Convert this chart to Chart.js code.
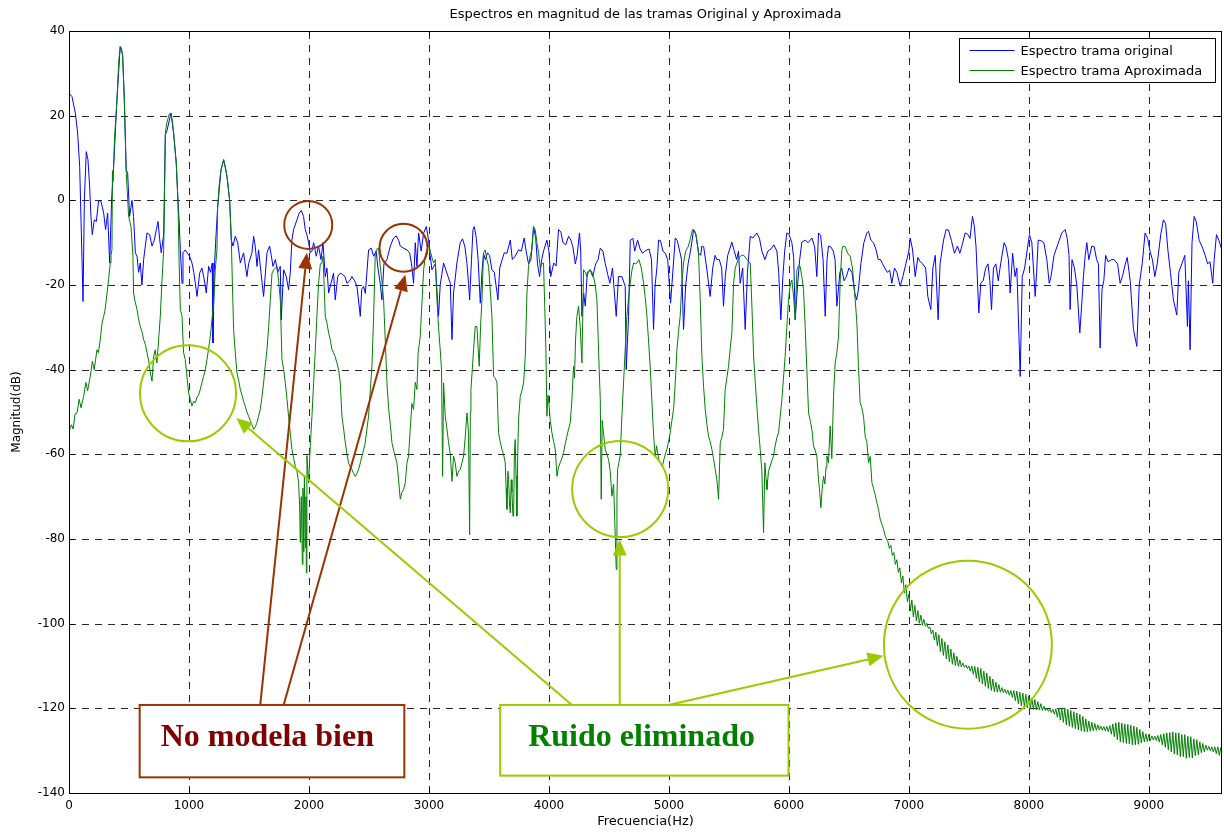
<!DOCTYPE html>
<html>
<head>
<meta charset="utf-8">
<script src="https://cdn.jsdelivr.net/npm/chart.js@4.4.1/dist/chart.umd.min.js"></script>
<style>
html,body{margin:0;padding:0;background:#fff;}
#wrap{width:1224px;height:834px;position:relative;}
</style>
</head>
<body>
<div id="wrap"><canvas id="c" width="1224" height="834"></canvas></div>
<script>
// ---------- DATA ----------
const chartTitle = 'Espectros en magnitud de las tramas Original y Aproximada';
const seriesNames = ['Espectro trama original', 'Espectro trama Aproximada'];
const xTickValues = [0,1000,2000,3000,4000,5000,6000,7000,8000,9000];
const yTickValues = [-140,-120,-100,-80,-60,-40,-20,0,20,40];

// [frequency Hz, magnitude dB]
const originalSpectrum = [
[0,25.3],[25,24.5],[53,20.6],[72,15.9],[89,8],[103,-7.7],[117,-23.9],[128,0],[144,11.5],[158,9.6],
[172,3.3],[183,-3.8],[194,-8.1],[211,-4.6],[228,-5],[247,0],[267,-0.3],[289,-3],[305,-6.9],[322,-3],
[339,-14.8],[355,0],[372,8],[400,24],[427,36.3],[447,34.3],[461,24],[477,7.2],[489,6.4],[505,-3.8],
[525,0],[538,-3.8],[553,-12.4],[567,-13.2],[580,-17],[594,-14.8],[608,-20],[622,-14],[650,-7.7],[672,-8.1],
[692,-10.8],[711,-9.4],[728,-6.9],[742,-5],[755,-9],[769,-12.4],[789,-8],[803,15.5],[817,16.5],[850,20.6],
[872,15.9],[894,8.8],[908,0],[918,-5],[928,-11.7],[942,-19.6],[950,-12.4],[969,-11.7],[987,-12.5],[1005,-13.2],
[1025,-14.8],[1040,-17],[1053,-19.6],[1067,-22.7],[1089,-17.2],[1108,-16],[1128,-18.8],[1144,-21.9],[1164,-15.6],[1180,-17],
[1194,-14.8],[1200,-33.7],[1210,-17],[1222,-10],[1239,-1.6],[1267,7.2],[1289,9.6],[1317,5.6],[1339,0],[1353,-9.4],
[1367,-10.8],[1386,-8.5],[1406,-10],[1428,-14.8],[1455,-12.4],[1483,-18],[1497,-15],[1525,-12.4],[1539,-8.5],[1553,-11],
[1567,-15.6],[1580,-11.7],[1600,-17],[1622,-22.7],[1650,-12.4],[1672,-10.8],[1686,-13],[1700,-15.6],[1720,-14],[1740,-17],
[1761,-15.6],[1769,-28.2],[1789,-16.4],[1811,-18],[1830,-21.1],[1844,-17.2],[1858,-9.4],[1872,-6.9],[1900,-4.6],[1919,-3],
[1936,-2.4],[1955,-3.8],[1969,-6.9],[1983,-8.1],[1997,-10],[2011,-12.4],[2025,-12],[2039,-10],[2061,-13.2],[2080,-10.8],
[2100,-14],[2117,-10],[2136,-18],[2150,-16],[2164,-21.9],[2180,-20],[2205,-17.2],[2219,-23.5],[2240,-18],[2261,-17.2],
[2280,-17.5],[2300,-18],[2317,-19.6],[2340,-19],[2358,-18],[2380,-19],[2400,-20.3],[2428,-27.4],[2440,-21],[2455,-20.3],
[2470,-22],[2497,-11.7],[2519,-11.3],[2539,-13.2],[2560,-12],[2575,-16],[2594,-19.6],[2608,-23.5],[2625,-15],[2650,-14],
[2678,-10.8],[2705,-8.9],[2728,-8.4],[2747,-9.4],[2761,-10.8],[2789,-11.3],[2817,-11.7],[2839,-12.4],[2855,-15],[2872,-19.6],
[2886,-10],[2900,-15.6],[2914,-7.7],[2935,-12],[2956,-7.7],[2978,-6.2],[2997,-9.4],[3010,-13],[3025,-16.4],[3053,-15],
[3080,-27.4],[3094,-20],[3122,-14.8],[3150,-17.2],[3178,-19.6],[3192,-32.9],[3205,-21.9],[3233,-14.8],[3261,-10],[3280,-9.1],
[3300,-11],[3317,-15],[3330,-19.6],[3339,-23.5],[3355,-14],[3367,-6.9],[3378,-6.2],[3395,-9],[3410,-14],[3428,-24.3],
[3442,-17],[3455,-12.6],[3470,-14],[3489,-12.4],[3505,-13],[3525,-16.4],[3545,-17],[3575,-23.5],[3590,-16],[3610,-14],
[3628,-12.4],[3650,-12.5],[3678,-9.4],[3695,-14],[3719,-13.2],[3747,-11.7],[3770,-12],[3794,-8.9],[3810,-12],[3830,-15],
[3850,-14],[3872,-6.2],[3890,-9],[3905,-15],[3922,-18],[3940,-14],[3955,-12],[3983,-9.4],[4000,-12],[4015,-18],
[4040,-14.8],[4060,-15.5],[4080,-6.9],[4100,-7.5],[4117,-10],[4140,-10.5],[4164,-8.5],[4183,-9.4],[4200,-11],[4220,-15],
[4235,-13],[4255,-7.7],[4265,-12],[4275,-27.4],[4290,-22],[4303,-25],[4320,-17],[4344,-16.4],[4365,-18],[4390,-15],
[4410,-14],[4428,-11.3],[4450,-12],[4470,-15],[4490,-17.5],[4508,-19.6],[4530,-16],[4561,-27.4],[4580,-18],[4608,-18],
[4636,-20.3],[4644,-40],[4664,-27.4],[4678,-9.4],[4700,-9],[4715,-12],[4739,-9.4],[4760,-11.5],[4780,-12.5],[4800,-12],
[4817,-11.7],[4835,-11.5],[4855,-14],[4872,-30.5],[4885,-20],[4900,-16],[4914,-9.4],[4930,-9.5],[4950,-12],[4970,-12.5],
[4990,-14],[5014,-24.3],[5035,-16],[5053,-8.9],[5070,-9.5],[5090,-12],[5105,-14],[5122,-30.5],[5140,-20],[5160,-15],
[5180,-12],[5206,-7],[5225,-8],[5247,-12.4],[5265,-13],[5275,-10.8],[5290,-11],[5315,-16],[5344,-22.7],[5365,-16],
[5385,-13],[5400,-14],[5420,-14],[5440,-16],[5455,-25],[5470,-18],[5490,-13],[5525,-9.9],[5545,-12],[5565,-14],
[5580,-12],[5594,-19.6],[5615,-16],[5636,-30.5],[5655,-17],[5678,-8.5],[5700,-8.9],[5733,-7.7],[5755,-9],[5775,-12],
[5800,-14],[5825,-12],[5850,-11.5],[5875,-10.5],[5900,-12],[5915,-17],[5933,-28.2],[5950,-18],[5965,-12],[5983,-7.7],
[6000,-8],[6025,-10],[6040,-13.5],[6053,-28.2],[6070,-21],[6090,-14],[6108,-9.9],[6136,-9.4],[6160,-10],[6192,-8.9],
[6215,-11],[6233,-18],[6247,-7.7],[6265,-8.3],[6285,-14],[6303,-27.4],[6318,-14],[6330,-10.8],[6350,-11],[6370,-12],
[6385,-14],[6400,-25],[6410,-22],[6425,-17],[6440,-16],[6460,-19],[6480,-18],[6500,-16],[6525,-17],[6550,-22],
[6565,-23.5],[6580,-21],[6600,-15],[6625,-10],[6650,-7.7],[6664,-7.3],[6683,-9.4],[6705,-10],[6725,-11.5],[6745,-14],
[6765,-14],[6780,-15],[6800,-16],[6820,-17],[6840,-16.5],[6858,-19.6],[6880,-16],[6900,-17],[6928,-20.3],[6950,-18],
[6975,-15],[7000,-12],[7011,-8.9],[7030,-11.5],[7053,-18],[7075,-13.5],[7095,-14.5],[7115,-15],[7140,-16],[7158,-22.7],
[7183,-25.8],[7200,-16],[7220,-13],[7244,-28.2],[7260,-15],[7289,-9.4],[7311,-6.9],[7330,-7],[7355,-9.5],[7380,-12.5],
[7405,-10.8],[7425,-12.5],[7445,-10.5],[7469,-7.7],[7490,-8],[7510,-9],[7530,-3.8],[7545,-6],[7560,-11],[7583,-26.6],
[7600,-19.5],[7620,-19],[7640,-16],[7660,-15],[7675,-19],[7689,-25.8],[7705,-16],[7725,-15],[7745,-19],[7765,-15],
[7794,-10],[7810,-11],[7830,-14],[7844,-21.9],[7865,-12.5],[7885,-18],[7900,-16],[7928,-41.6],[7945,-18],[7965,-16],
[7985,-12],[8005,-8.1],[8025,-10],[8053,-22.7],[8065,-17],[8078,-9.4],[8100,-9.5],[8125,-10],[8150,-14],[8170,-19.6],
[8185,-18],[8210,-13],[8240,-10.5],[8275,-7.7],[8303,-6.9],[8320,-9],[8335,-13],[8344,-25.8],[8360,-14],[8380,-16],
[8400,-20],[8425,-31.3],[8440,-25],[8455,-18],[8470,-13],[8483,-10],[8500,-14],[8525,-10.8],[8545,-11],[8565,-14],
[8580,-15],[8594,-34.9],[8610,-21],[8625,-19],[8640,-13],[8660,-14.5],[8690,-14],[8710,-14],[8740,-15],[8761,-19.6],
[8780,-18],[8800,-15.5],[8820,-13.5],[8845,-19],[8872,-30.5],[8900,-34.5],[8920,-20],[8945,-15],[8969,-7.7],[8990,-9],
[9010,-12],[9030,-14],[9050,-18],[9070,-15],[9100,-8],[9122,-4.6],[9140,-5.5],[9160,-12],[9180,-17],[9205,-23.5],
[9233,-27.1],[9250,-17],[9275,-15],[9300,-13],[9322,-29.8],[9330,-19],[9344,-35.3],[9360,-10],[9378,-3.8],[9395,-5],
[9420,-9.5],[9445,-11],[9470,-13],[9490,-15],[9510,-14.5],[9533,-19.6],[9545,-14],[9564,-8.1],[9585,-9.5],[9608,-11.7]
];

const approximatedSpectrum = [
[0,-54.5],[20,-53],[35,-54],[50,-50.5],[67,-50.2],[85,-47],[100,-49],[122,-46.3],[140,-43],[155,-45],
[177,-41.6],[195,-38],[210,-40],[233,-35.3],[245,-36],[261,-32.9],[275,-29],[289,-27.4],[300,-26],[317,-21.9],
[330,-18.7],[344,-14.8],[350,-13],[358,-11.7],[362,7],[367,4.5],[380,15],[400,23.7],[415,33],[427,36.3],
[437,36],[447,34.3],[461,23.7],[477,6.4],[497,-3.8],[517,-6.2],[533,-13.2],[538,-21.9],[552,-24],[567,-25.8],
[580,-28],[594,-29.8],[608,-31],[622,-32.9],[636,-34],[650,-36],[665,-38],[678,-40.8],[692,-42.7],[705,-37],
[719,-35.3],[733,-38.4],[747,-33],[761,-27.4],[775,-19],[789,-11.7],[796,0],[803,16],[817,18.5],[836,20.4],
[850,20.6],[862,18.5],[872,15.9],[894,8.8],[908,0],[918,-15],[928,-25.8],[942,-27.4],[955,-36],[969,-37.6],
[983,-41.6],[997,-45.5],[1011,-47],[1025,-48.6],[1039,-47.5],[1053,-47.8],[1067,-46.5],[1080,-46],[1094,-44.7],[1108,-43],
[1122,-41.6],[1136,-40],[1150,-37.6],[1164,-35],[1178,-32.1],[1192,-28],[1206,-24.3],[1219,-16.5],[1233,-11.7],[1239,-1.6],
[1253,4],[1267,7.2],[1289,9.6],[1303,8],[1317,5.6],[1339,0],[1353,-9.4],[1362,-20],[1372,-30.5],[1386,-36],
[1400,-40.8],[1414,-42.5],[1428,-44.7],[1442,-46],[1455,-47.5],[1469,-48.6],[1483,-50],[1497,-51],[1511,-52],[1525,-53],
[1539,-54.1],[1553,-53.5],[1567,-52.5],[1580,-51],[1594,-49.4],[1608,-46.5],[1622,-43.1],[1636,-39],[1650,-35.3],[1664,-30],
[1678,-23.5],[1692,-17.2],[1706,-16.4],[1720,-16],[1733,-15.6],[1747,-19],[1761,-23.5],[1775,-37.6],[1789,-40],[1803,-43.1],
[1817,-47],[1830,-51],[1844,-55],[1858,-58.8],[1872,-61],[1886,-62.8],[1900,-64],[1914,-66.7],[1922,-72],[1928,-80.8],
[1936,-70],[1945,-86],[1950,-68],[1957,-83],[1962,-65],[1970,-82],[1975,-70],[1978,-88],[1983,-60.3],[1997,-66.8],
[2011,-58],[2025,-51],[2039,-43],[2053,-35.3],[2067,-27],[2080,-19.6],[2095,-15],[2108,-14.8],[2117,-13.2],[2125,-19],
[2136,-27.4],[2150,-29],[2164,-31.3],[2178,-33],[2192,-35.3],[2205,-36],[2219,-37],[2233,-38.4],[2247,-40],[2261,-43.1],
[2275,-51],[2289,-54],[2303,-57.3],[2317,-60],[2330,-62],[2344,-63],[2358,-63.6],[2372,-64.5],[2386,-65.2],[2400,-64.5],
[2414,-63.6],[2428,-62],[2442,-60.4],[2455,-59],[2469,-57.3],[2483,-54],[2497,-51],[2511,-45],[2525,-39.2],[2539,-27.4],
[2553,-12.4],[2566,-11.5],[2580,-11.3],[2594,-15.6],[2608,-19],[2622,-23.5],[2636,-33],[2650,-43.1],[2664,-49],[2678,-53],
[2692,-57.3],[2705,-59],[2719,-60.5],[2733,-62],[2747,-66],[2761,-70.6],[2775,-69],[2789,-68.3],[2803,-66.7],[2817,-62],
[2830,-60.4],[2844,-54],[2858,-48],[2872,-49.4],[2886,-43],[2900,-44.7],[2910,-36],[2928,-32.1],[2942,-24],[2956,-16.4],
[2970,-13],[2983,-11.7],[3000,-10.5],[3011,-12],[3025,-13.5],[3039,-14.8],[3053,-14],[3067,-23.5],[3080,-30],[3094,-35.3],
[3105,-40],[3114,-65.2],[3122,-43.1],[3136,-51],[3150,-54],[3164,-57.3],[3178,-60],[3192,-66.4],[3205,-60.4],[3219,-62],
[3233,-65.2],[3247,-64],[3261,-63.6],[3275,-62],[3289,-60.4],[3303,-55.7],[3317,-50.2],[3330,-55],[3339,-79],[3345,-50],
[3350,-44.7],[3361,-40],[3372,-35.3],[3386,-29.8],[3400,-29.8],[3410,-35],[3419,-39.2],[3430,-30],[3442,-23.5],[3455,-12.4],
[3469,-11.7],[3483,-14],[3497,-15.6],[3511,-21.1],[3525,-27.4],[3539,-41.6],[3553,-42],[3567,-43.1],[3580,-54.9],[3594,-57],
[3608,-58.8],[3622,-60],[3636,-62],[3643,-68],[3650,-73],[3658,-64],[3664,-66],[3672,-72],[3678,-73.8],[3686,-66],
[3692,-69],[3700,-74.6],[3706,-74.6],[3712,-60],[3719,-56.5],[3726,-65],[3733,-74.6],[3740,-60],[3747,-51.8],[3761,-46.3],
[3775,-45],[3789,-43.1],[3803,-36.8],[3817,-21.9],[3830,-15.6],[3844,-13],[3858,-11.7],[3872,-6.2],[3886,-7],[3900,-10],
[3914,-12.4],[3928,-16],[3942,-15],[3955,-14.8],[3965,-25],[3975,-35.3],[3983,-51],[3992,-46],[4000,-48],[4011,-52],
[4025,-54.9],[4039,-57],[4053,-58.8],[4067,-65.2],[4080,-63],[4094,-62],[4108,-61],[4122,-59.6],[4136,-57.5],[4150,-55.7],
[4164,-54],[4178,-52.5],[4192,-47],[4205,-39.2],[4213,-42],[4222,-33],[4233,-27.4],[4247,-25],[4261,-30],[4275,-38.4],
[4289,-16.4],[4303,-17],[4317,-18],[4330,-17],[4344,-16.4],[4358,-17],[4372,-18],[4386,-20],[4400,-23.5],[4410,-32],
[4419,-40],[4428,-47],[4436,-70.6],[4444,-52],[4455,-55],[4469,-58.8],[4483,-60],[4497,-61.2],[4511,-64],[4525,-69.9],
[4539,-67],[4553,-79.3],[4561,-87.2],[4567,-70],[4572,-63.6],[4583,-62],[4594,-60.4],[4608,-51],[4622,-43.1],[4636,-35],
[4650,-27.4],[4664,-23],[4678,-19.6],[4692,-16.5],[4706,-14.8],[4720,-15],[4733,-14.8],[4750,-14],[4770,-16],[4789,-19.6],
[4803,-23],[4817,-27.4],[4830,-33],[4844,-39.2],[4856,-46],[4867,-52.5],[4876,-57],[4886,-60.4],[4897,-58],[4914,-61],
[4928,-62],[4945,-63],[4960,-61],[4983,-58.8],[4997,-57],[5011,-54.9],[5025,-52],[5039,-49.4],[5053,-43.1],[5067,-35.3],
[5080,-31],[5094,-27.4],[5108,-19.6],[5122,-14.8],[5140,-12],[5160,-11],[5180,-9],[5195,-7],[5206,-6.9],[5220,-7.5],
[5233,-9.5],[5247,-12.4],[5261,-23.5],[5275,-36.8],[5289,-44],[5303,-49.4],[5317,-53],[5330,-55.7],[5344,-57],[5358,-58.8],
[5372,-61],[5386,-63.6],[5400,-66],[5414,-70.6],[5428,-57.3],[5441,-56],[5455,-54.1],[5469,-44.7],[5483,-42],[5497,-39.2],
[5511,-35],[5525,-31.3],[5539,-19.6],[5553,-16],[5567,-14.8],[5585,-13.5],[5605,-13],[5625,-13],[5650,-14],[5678,-14.8],
[5692,-25],[5706,-36.8],[5720,-43],[5733,-48.6],[5747,-54],[5761,-58.8],[5775,-64],[5789,-78.5],[5800,-62],[5810,-66],
[5817,-68.3],[5830,-64],[5844,-62.8],[5858,-61.5],[5872,-60.4],[5886,-58],[5900,-56],[5914,-54.9],[5928,-51],[5942,-47],
[5955,-42],[5969,-36.8],[5983,-30],[5997,-23.5],[6011,-20],[6025,-18.8],[6040,-23],[6053,-28.2],[6067,-16.4],[6080,-15.5],
[6094,-15.6],[6108,-18],[6122,-21.1],[6136,-30],[6150,-40],[6164,-50.2],[6178,-52],[6192,-54.1],[6205,-58],[6219,-59],
[6233,-60.4],[6247,-65.9],[6257,-69],[6267,-72.6],[6278,-68],[6289,-65.2],[6300,-67],[6310,-63],[6317,-60.4],[6330,-62],
[6344,-53.3],[6358,-61],[6372,-46.3],[6386,-38.4],[6400,-36],[6414,-32.1],[6428,-18.8],[6442,-11.7],[6450,-10.8],[6470,-11],
[6490,-12.5],[6511,-13.2],[6530,-16],[6553,-23.5],[6567,-29],[6580,-39.2],[6594,-47.8],[6608,-49],[6622,-51],[6636,-55.7],
[6650,-57],[6664,-62],[6678,-60.5],[6692,-66.7],[6705,-68],[6719,-69.5],[6733,-71.4],[6747,-73],[6761,-75.3],[6775,-76.5],
[6789,-77.7],[6803,-79.3],
[6825,-80.6],[6837.5,-82.2],[6850,-81.5],[6862.5,-83.9],[6875,-83.2],[6887.5,-86],[6900,-84.9],[6912.5,-87.9],[6925,-86.8],[6937.5,-90.4],
[6950,-88.7],[6962.5,-92.7],[6975,-90.8],[6987.5,-94.8],[7000,-93],[7012.5,-97],[7025,-94.4],[7037.5,-98.4],[7050,-95.7],[7062.5,-99.3],
[7075,-96.9],[7087.5,-99.9],[7100,-98],[7112.5,-100.4],[7125,-99],[7137.5,-100.6],[7150,-99.9],[7162.5,-101.1],[7175,-100.8],[7187.5,-102.4],
[7200,-101.5],[7212.5,-103.9],[7225,-102],[7237.5,-105.2],[7250,-102.6],[7262.5,-106.6],[7275,-103.5],[7287.5,-107.5],[7300,-104.3],[7312.5,-108.3],
[7325,-105],[7337.5,-109],[7350,-106],[7362.5,-109.6],[7375,-106.9],[7387.5,-109.9],[7400,-107.7],[7412.5,-110.1],[7425,-108.6],[7437.5,-110.2],
[7450,-109.3],[7462.5,-110.3],[7475,-109.8],[7487.5,-110.6],[7500,-110],[7512.5,-111.2],[7525,-110],[7537.5,-112],[7550,-110.1],[7562.5,-112.9],
[7575,-110.3],[7587.5,-113.7],[7600,-110.6],[7612.5,-114.2],[7625,-111.2],[7637.5,-114.8],[7650,-111.7],[7662.5,-115.3],[7675,-112.4],[7687.5,-115.8],
[7700,-113.1],[7712.5,-116.1],[7725,-113.8],[7737.5,-116.2],[7750,-114.4],[7762.5,-116.2],[7775,-115.1],[7787.5,-116.3],[7800,-115.5],[7812.5,-116.5],
[7825,-115.7],[7837.5,-116.9],[7850,-115.8],[7862.5,-117.4],[7875,-115.8],[7887.5,-118.2],[7900,-115.9],[7912.5,-118.9],[7925,-116.2],[7937.5,-119.4],
[7950,-116.4],[7962.5,-119.6],[7975,-116.7],[7987.5,-119.9],[8000,-117],[8012.5,-120.2],[8025,-117.5],[8037.5,-120.3],[8050,-117.9],[8062.5,-120.3],
[8075,-118.4],[8087.5,-120.4],[8100,-118.9],[8112.5,-120.5],[8125,-119.5],[8137.5,-120.5],[8150,-119.9],[8162.5,-120.7],[8175,-120.2],[8187.5,-121],
[8200,-120.2],[8212.5,-121.4],[8225,-120.1],[8237.5,-122.1],[8250,-120],[8262.5,-122.8],[8275,-119.9],[8287.5,-123.3],[8300,-119.9],[8312.5,-123.9],
[8325,-120.2],[8337.5,-124.2],[8350,-120.5],[8362.5,-124.5],[8375,-120.8],[8387.5,-124.8],[8400,-121.1],[8412.5,-125.1],[8425,-121.4],[8437.5,-125.4],
[8450,-121.9],[8462.5,-125.5],[8475,-122.5],[8487.5,-125.5],[8500,-123],[8512.5,-125.4],[8525,-123.3],[8537.5,-125.3],[8550,-123.6],[8562.5,-125.2],
[8575,-123.9],[8587.5,-125.1],[8600,-124.2],[8612.5,-125.2],[8625,-124.3],[8637.5,-125.3],[8650,-124.3],[8662.5,-125.5],[8675,-124.1],[8687.5,-126.1],
[8700,-123.7],[8712.5,-126.7],[8725,-123.4],[8737.5,-127.4],[8750,-123.3],[8762.5,-127.9],[8775,-123.5],[8787.5,-128.1],[8800,-123.7],[8812.5,-128.3],
[8825,-123.8],[8837.5,-128.4],[8850,-124],[8862.5,-128.6],[8875,-124.2],[8887.5,-128.6],[8900,-124.5],[8912.5,-128.5],[8925,-125],[8937.5,-128.2],
[8950,-125.5],[8962.5,-127.9],[8975,-126],[8987.5,-127.8],[9000,-126.2],[9012.5,-127.6],[9025,-126.5],[9037.5,-127.5],[9050,-126.6],[9062.5,-127.6],
[9075,-126.4],[9087.5,-128],[9100,-126.2],[9112.5,-128.6],[9125,-126],[9137.5,-129.2],[9150,-125.8],[9162.5,-129.8],[9175,-125.7],[9187.5,-130.3],
[9200,-125.6],[9212.5,-130.8],[9225,-125.8],[9237.5,-131],[9250,-125.8],[9262.5,-131.4],[9275,-126.2],[9287.5,-131.4],[9300,-126.2],[9312.5,-131.8],
[9325,-126.6],[9337.5,-131.6],[9350,-126.7],[9362.5,-131.7],[9375,-127.2],[9387.5,-131.2],[9400,-127.4],[9412.5,-131],[9425,-127.9],[9437.5,-130.5],
[9450,-128.3],[9462.5,-130.3],[9475,-128.7],[9487.5,-129.9],[9500,-129],[9512.5,-130],[9525,-129.1],[9537.5,-130.3],[9550,-129.1],[9562.5,-130.7],
[9575,-129.1],[9587.5,-131.1],[9600,-129.3],[9610,-131.3]
];

// ---------- Annotation layout (data coordinates; radii/offsets in px) ----------
const notes = {
  brown: '#993300', lime: '#99cc00',
  circles: [
    {x:1994, y:-5.8, r:24, c:'brown'},
    {x:2788, y:-11.2, r:24, c:'brown'},
    {x:992,  y:-45.6, r:48, c:'lime'},
    {x:4594, y:-68.2, r:48, c:'lime'},
    {x:7492, y:-105.0, r:84, c:'lime'}
  ],
  arrows: [
    {x1:1594, y1:-119.2, x2:1983, y2:-12.4, c:'brown'},
    {x1:1789, y1:-119.2, x2:2803, y2:-17.6, c:'brown'},
    {x1:4192, y1:-119.2, x2:1394, y2:-51.4, c:'lime'},
    {x1:4590, y1:-119.2, x2:4590, y2:-80.1, c:'lime'},
    {x1:4997, y1:-119.2, x2:6789, y2:-107.6, c:'lime'}
  ],
  boxes: [
    {x1:589, x2:2795, y1:-119.2, y2:-136.3, c:'brown', text:'No modela bien', tc:'#800000', dx:21},
    {x1:3594, x2:5997, y1:-119.2, y2:-135.9, c:'lime', text:'Ruido eliminado', tc:'#008000', dx:28}
  ]
};

const FONT = "'DejaVu Sans', Arial, sans-serif";

function drawArrow(ctx, x1, y1, x2, y2, color) {
  const ang = Math.atan2(y2 - y1, x2 - x1);
  const len = 16, half = 7;
  const bx = x2 - len * Math.cos(ang), by = y2 - len * Math.sin(ang);
  ctx.strokeStyle = color; ctx.lineWidth = 2;
  ctx.beginPath(); ctx.moveTo(x1, y1); ctx.lineTo(bx, by); ctx.stroke();
  ctx.fillStyle = color;
  ctx.beginPath();
  ctx.moveTo(x2, y2);
  ctx.lineTo(bx + half * Math.sin(ang), by - half * Math.cos(ang));
  ctx.lineTo(bx - half * Math.sin(ang), by + half * Math.cos(ang));
  ctx.closePath(); ctx.fill();
}

const decor = {
  id: 'decor',
  beforeDatasetsDraw(chart) {
    const {ctx, chartArea: a, scales: {x, y}} = chart;
    ctx.save();
    ctx.strokeStyle = '#2a2a2a'; ctx.lineWidth = 1; ctx.setLineDash([7, 6]);
    xTickValues.forEach(v => {
      const px = Math.round(x.getPixelForValue(v)) + 0.5;
      if (px <= a.left + 1) return;
      ctx.beginPath(); ctx.moveTo(px, a.bottom); ctx.lineTo(px, a.top); ctx.stroke();
    });
    yTickValues.forEach(v => {
      const py = Math.round(y.getPixelForValue(v)) + 0.5;
      if (py <= a.top + 1 || py >= a.bottom - 1) return;
      ctx.beginPath(); ctx.moveTo(a.left, py); ctx.lineTo(a.right, py); ctx.stroke();
    });
    ctx.restore();
  },
  afterDatasetsDraw(chart) {
    const {ctx, chartArea: a, scales: {x, y}} = chart;
    ctx.save();
    // frame
    ctx.strokeStyle = '#000'; ctx.lineWidth = 1;
    ctx.strokeRect(Math.round(a.left) + 0.5, Math.round(a.top) + 0.5, Math.round(a.right - a.left) - 1, Math.round(a.bottom - a.top));
    // inner tick marks
    ctx.beginPath();
    xTickValues.forEach(v => {
      const px = Math.round(x.getPixelForValue(v)) + 0.5;
      ctx.moveTo(px, a.bottom); ctx.lineTo(px, a.bottom - 5);
      ctx.moveTo(px, a.top); ctx.lineTo(px, a.top + 5);
    });
    yTickValues.forEach(v => {
      const py = Math.round(y.getPixelForValue(v)) + 0.5;
      ctx.moveTo(a.left, py); ctx.lineTo(a.left + 5, py);
      ctx.moveTo(a.right, py); ctx.lineTo(a.right - 5, py);
    });
    ctx.stroke();

    // annotations
    const col = k => notes[k];
    notes.circles.forEach(c => {
      ctx.strokeStyle = col(c.c); ctx.lineWidth = 2;
      ctx.beginPath(); ctx.arc(x.getPixelForValue(c.x), y.getPixelForValue(c.y), c.r, 0, Math.PI * 2); ctx.stroke();
    });
    notes.arrows.forEach(r => {
      drawArrow(ctx, x.getPixelForValue(r.x1), y.getPixelForValue(r.y1), x.getPixelForValue(r.x2), y.getPixelForValue(r.y2), col(r.c));
    });
    notes.boxes.forEach(b => {
      const l = x.getPixelForValue(b.x1), r = x.getPixelForValue(b.x2);
      const t = y.getPixelForValue(b.y1), bt = y.getPixelForValue(b.y2);
      ctx.fillStyle = '#fff'; ctx.fillRect(l, t, r - l, bt - t);
      ctx.strokeStyle = col(b.c); ctx.lineWidth = 2; ctx.strokeRect(l, t, r - l, bt - t);
      ctx.fillStyle = b.tc; ctx.font = "bold 32px 'Liberation Serif', 'Times New Roman', serif";
      ctx.textAlign = 'left'; ctx.textBaseline = 'alphabetic';
      ctx.fillText(b.text, l + b.dx, t + 41);
    });

    // legend
    const lw = 256, lh = 44;
    const lx = Math.round(a.right - 7 - lw) + 0.5, ly = Math.round(a.top + 7) + 0.5;
    ctx.fillStyle = '#fff'; ctx.fillRect(lx, ly, lw, lh);
    ctx.strokeStyle = '#000'; ctx.lineWidth = 1; ctx.strokeRect(lx, ly, lw, lh);
    const cols = ['#0000ff', '#008000'];
    ctx.font = '13px ' + FONT; ctx.textBaseline = 'middle'; ctx.textAlign = 'left';
    seriesNames.forEach((n, i) => {
      const yy = ly + 12 + i * 20;
      ctx.strokeStyle = cols[i]; ctx.lineWidth = 1;
      ctx.beginPath(); ctx.moveTo(lx + 10, yy); ctx.lineTo(lx + 55, yy); ctx.stroke();
      ctx.fillStyle = '#000'; ctx.fillText(n, lx + 61, yy + 1);
    });

    // title
    ctx.font = '13px ' + FONT; ctx.fillStyle = '#000'; ctx.textAlign = 'center'; ctx.textBaseline = 'middle';
    ctx.fillText(chartTitle, (a.left + a.right) / 2, 15);
    ctx.restore();
  }
};

const toPts = arr => arr.map(p => ({x: p[0], y: p[1]}));

new Chart(document.getElementById('c'), {
  type: 'scatter',
  data: {
    datasets: [
      {label: seriesNames[0], data: toPts(originalSpectrum), showLine: true, borderColor: '#0000ff', borderWidth: 1, pointRadius: 0, tension: 0, order: 1},
      {label: seriesNames[1], data: toPts(approximatedSpectrum), showLine: true, borderColor: '#008000', borderWidth: 1, pointRadius: 0, tension: 0, order: 0}
    ]
  },
  options: {
    responsive: false, animation: false, events: [],
    layout: {padding: {left: 0, right: 2, top: 31, bottom: 0}},
    plugins: {legend: {display: false}, tooltip: {enabled: false}, title: {display: false}},
    scales: {
      x: {
        type: 'linear', position: 'bottom', min: 0, max: 9610,
        afterFit: s => { s.height = 41; },
        afterBuildTicks: s => { s.ticks = xTickValues.map(v => ({value: v})); },
        ticks: {autoSkip: false, maxRotation: 0, padding: 6, color: '#000', font: {family: FONT, size: 12}, callback: v => String(v)},
        grid: {display: false, drawTicks: false}, border: {display: false},
        title: {display: true, text: 'Frecuencia(Hz)', color: '#000', font: {family: FONT, size: 13}, padding: {top: 0, bottom: 5}}
      },
      y: {
        type: 'linear', position: 'left', min: -140, max: 40,
        afterFit: s => { s.width = 69; },
        afterBuildTicks: s => { s.ticks = yTickValues.map(v => ({value: v})); },
        ticks: {autoSkip: false, padding: 4, color: '#000', font: {family: FONT, size: 12}, callback: v => String(v)},
        grid: {display: false, drawTicks: false}, border: {display: false},
        title: {display: true, text: 'Magnitud(dB)', color: '#000', font: {family: FONT, size: 12}, padding: {top: 10, bottom: 0}}
      }
    }
  },
  plugins: [decor]
});
</script>
</body>
</html>
